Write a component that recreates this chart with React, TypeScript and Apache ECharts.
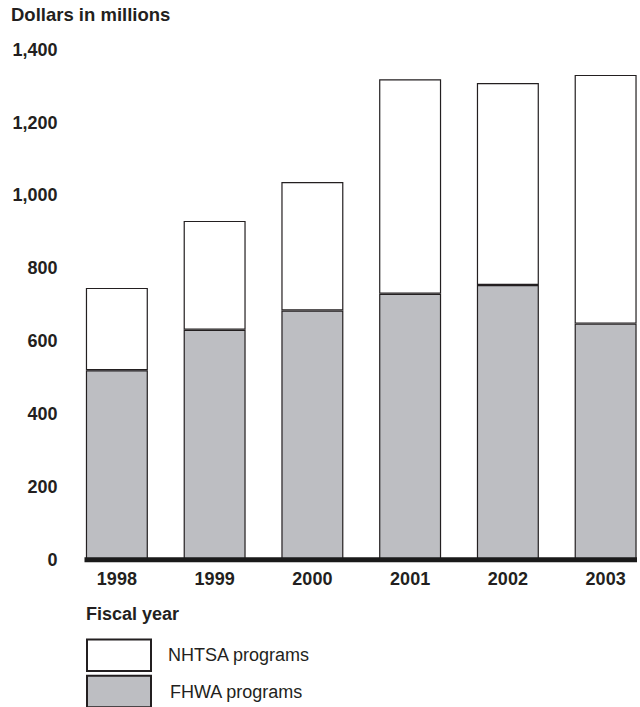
import React, { useEffect, useRef } from "react";
import * as echarts from "echarts";

const years = ["1998", "1999", "2000", "2001", "2002", "2003"];
const fhwa = [520, 631, 684, 730, 754, 648];
const nhtsa = [226, 299, 353, 589, 555, 683];
const yTicks = [0, 200, 400, 600, 800, 1000, 1200, 1400];
const legendNames = ["NHTSA programs", "FHWA programs"];

const FONT = "'Liberation Sans', Arial, Helvetica, sans-serif";
const INK = "#231f20";
const GRAY = "#bdbec2";

export default function App() {
  const ref = useRef<HTMLDivElement>(null);
  useEffect(() => {
    if (!ref.current) return;
    const chart = echarts.init(ref.current, undefined, { renderer: "svg" });
    const legendBase = {
      orient: "vertical",
      left: 86,
      padding: 0,
      icon: "rect",
      itemWidth: 64,
      itemHeight: 31.5,
      selectedMode: false,
      textStyle: { fontFamily: FONT, fontSize: 18, color: INK, padding: [0, 0, 0, 12] },
    };
    chart.setOption({
      animation: false,
      backgroundColor: "#ffffff",
      textStyle: { fontFamily: FONT, color: INK },
      title: [
        {
          text: "Dollars in millions",
          left: 11,
          top: 5,
          padding: 0,
          textStyle: { fontFamily: FONT, fontSize: 18.5, fontWeight: "bold", color: INK },
        },
        {
          text: "Fiscal year",
          left: 86,
          top: 605,
          padding: 0,
          textStyle: { fontFamily: FONT, fontSize: 18, fontWeight: "bold", color: INK },
        },
      ],
      legend: [
        { ...legendBase, top: 638.5, data: [legendNames[0]] },
        {
          ...legendBase,
          top: 674.8,
          data: [legendNames[1]],
          textStyle: { ...legendBase.textStyle, padding: [0, 0, 0, 14] },
        },
      ],
      grid: {
        left: 68,
        right: -14.5,
        top: 49.8,
        bottom: 147.5,
        containLabel: false,
        outerBoundsMode: "none",
      },
      xAxis: {
        type: "category",
        data: years,
        axisLine: { show: false },
        axisTick: { show: false },
        axisLabel: {
          margin: 10,
          fontFamily: FONT,
          fontSize: 18,
          fontWeight: "bold",
          color: INK,
        },
      },
      yAxis: {
        type: "value",
        min: yTicks[0],
        max: yTicks[yTicks.length - 1],
        interval: 200,
        axisLine: { show: false },
        axisTick: { show: false },
        splitLine: { show: false },
        axisLabel: {
          margin: 10.5,
          fontFamily: FONT,
          fontSize: 18,
          fontWeight: "bold",
          color: INK,
          formatter: (v: number) => v.toLocaleString("en-US"),
        },
      },
      series: [
        {
          name: legendNames[1],
          type: "bar",
          stack: "total",
          barWidth: 62,
          data: fhwa,
          itemStyle: { color: GRAY, borderColor: INK, borderWidth: 1.2 },
        },
        {
          name: legendNames[0],
          type: "bar",
          stack: "total",
          barWidth: 62,
          data: nhtsa,
          itemStyle: { color: "#ffffff", borderColor: INK, borderWidth: 1.2 },
        },
      ],
      graphic: [
        {
          type: "rect",
          z: 100,
          shape: { x: 84.5, y: 557.3, width: 552.5, height: 5 },
          style: { fill: "#1a1a1a" },
        },
      ],
    });
    return () => chart.dispose();
  }, []);
  return (
    <div
      ref={ref}
      style={{ position: "absolute", left: 0, top: 0, width: 640, height: 707 }}
    />
  );
}
